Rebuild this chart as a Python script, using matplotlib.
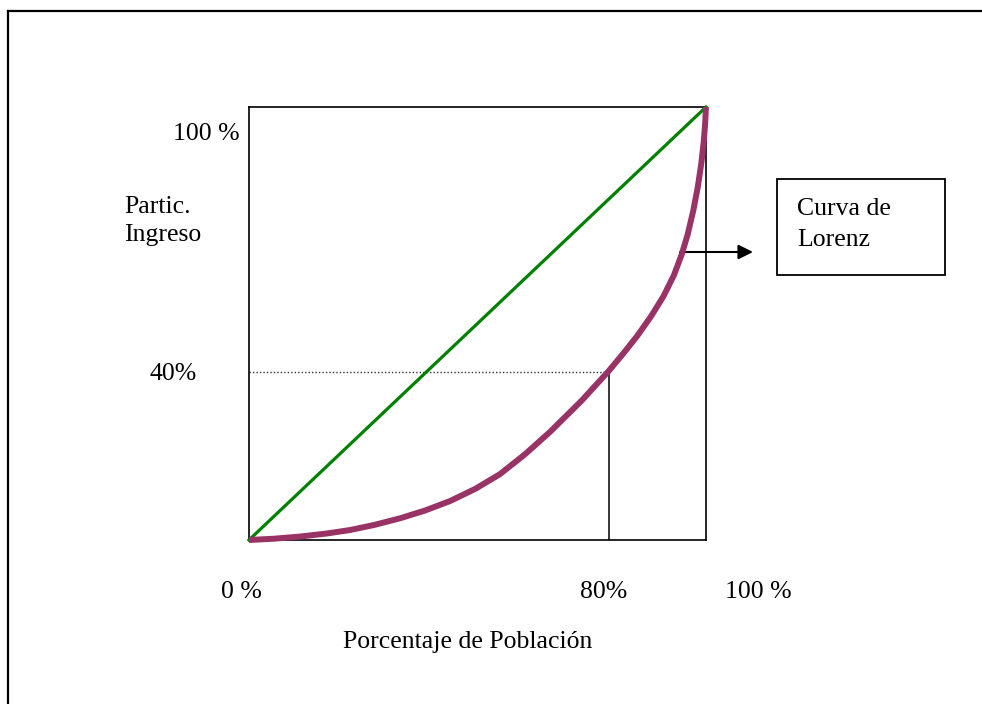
import numpy as np
import matplotlib
matplotlib.use('Agg')
import matplotlib.pyplot as plt

plt.rcParams['font.family'] = ['Liberation Serif', 'DejaVu Serif']

#### Data (share of population vs share of income)
pob = [0.0, 0.055, 0.112, 0.170, 0.221, 0.275, 0.330, 0.385, 0.440, 0.495,
       0.549, 0.604, 0.659, 0.728, 0.786, 0.820, 0.850, 0.880, 0.907, 0.930,
       0.947, 0.960, 0.972, 0.982, 0.990, 0.995, 0.998, 1.0]
ingreso = [0.0, 0.003, 0.008, 0.015, 0.023, 0.035, 0.050, 0.068, 0.090, 0.118,
           0.152, 0.198, 0.250, 0.322, 0.389, 0.432, 0.472, 0.517, 0.563, 0.612,
           0.660, 0.706, 0.760, 0.815, 0.872, 0.920, 0.960, 1.0]

igualdad_x = [0, 1]
igualdad_y = [0, 1]

# point marked on the curve
punto_x = 0.788
punto_y = 0.388

etiquetas_x = ['0 %', '80%', '100 %']
etiquetas_y = ['100 %', '40%']

W, H = 982, 704
fig = plt.figure(figsize=(W / 100, H / 100), dpi=100)

## overlay in pixel coordinates for frame, labels and the legend box
ov = fig.add_axes([0, 0, 1, 1])
ov.set_xlim(0, W)
ov.set_ylim(H, 0)
ov.axis('off')

# outer frame (only top and left visible)
ov.plot([8, 8], [11, H + 5], color='black', lw=1.6, clip_on=False)
ov.plot([8, W + 5], [11, 11], color='black', lw=1.6, clip_on=False)

## main axes
ax = fig.add_axes([249 / W, (H - 540) / H, 457 / W, 433 / H])
ax.patch.set_visible(False)
ax.set_xlim(0, 1)
ax.set_ylim(0, 1)
ax.set_xticks([])
ax.set_yticks([])
for s in ax.spines.values():
    s.set_linewidth(1.2)

ax.plot(igualdad_x, igualdad_y, color='#008000', lw=2.3, clip_on=False, zorder=3)
ax.plot([0, punto_x], [punto_y, punto_y], color='#333333', lw=1.0, ls=(0, (1, 1.5)), zorder=2)
ax.plot([punto_x, punto_x], [0, punto_y], color='black', lw=1.1, zorder=2)
ax.plot(pob, ingreso, color='#993366', lw=4.3, clip_on=False, zorder=4,
        solid_capstyle='butt', solid_joinstyle='round')

fs = 18.5
ov.text(240, 134, etiquetas_y[0], fontsize=fs, ha='right', va='center')
ov.text(197, 374, etiquetas_y[1], fontsize=fs, ha='right', va='center')
ov.text(124, 213, 'Partic.', fontsize=fs, ha='left', va='baseline')
ov.text(124, 241, 'Ingreso', fontsize=fs, ha='left', va='baseline')

ov.text(241, 598, etiquetas_x[0], fontsize=fs, ha='center', va='baseline')
ov.text(604, 598, etiquetas_x[1], fontsize=fs, ha='center', va='baseline')
ov.text(758, 598, etiquetas_x[2], fontsize=fs, ha='center', va='baseline')
ov.text(468, 648, 'Porcentaje de Población', fontsize=fs, ha='center', va='baseline')

# legend box with arrow
ov.add_patch(plt.Rectangle((777, 179), 168, 96, fill=False, ec='black', lw=1.3))
ov.text(797, 215, 'Curva de', fontsize=fs, ha='left', va='baseline')
ov.text(797, 246, 'Lorenz', fontsize=fs, ha='left', va='baseline')
ov.annotate('', xy=(753, 252), xytext=(680, 252),
            arrowprops=dict(arrowstyle='-|>', color='black', lw=1.5,
                            mutation_scale=22, shrinkA=0, shrinkB=0))

fig.savefig('out.png', dpi=100)
